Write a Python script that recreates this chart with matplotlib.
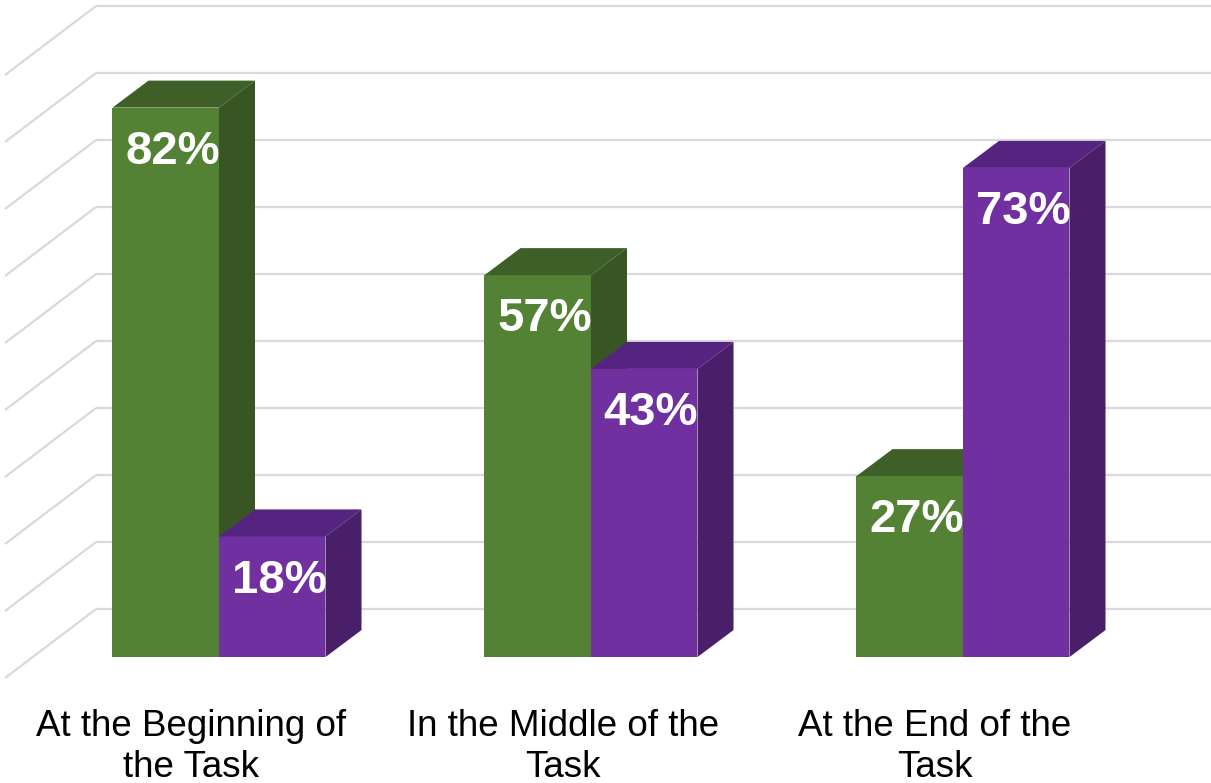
import matplotlib
matplotlib.use('Agg')
import matplotlib.pyplot as plt

# chart data
categories = ['At the Beginning of\nthe Task', 'In the Middle of the\nTask', 'At the End of the\nTask']
green_vals = [82, 57, 27]
purple_vals = [18, 43, 73]
grid_vals = [0, 10, 20, 30, 40, 50, 60, 70, 80, 90]

# face colours: front, top, side
green_faces = ('#548235', '#3f5f28', '#375623')
purple_faces = ('#7030a0', '#552480', '#481f68')

bar_w = 0.2863
# oblique depth offsets (x in category units, y in percent)
bar_dx, bar_dy = 0.0968, 4.03
back_dx, back_dy = 0.1694, 7.16
front_dx, front_dy = -0.0753, -3.13
x_left, x_right = -0.5, 2.5

plt.rcParams['font.family'] = ['Liberation Sans', 'DejaVu Sans']
fig = plt.figure(figsize=(12.11, 7.83), dpi=100)
ax = fig.add_axes([0, 0, 1, 1])
ax.set_xlim(-0.5887, 2.6667)
ax.set_ylim(-18.8, 98.06)
ax.axis('off')

# back wall and side wall gridlines
for v in grid_vals:
    ax.plot([x_left + back_dx, x_right + back_dx], [v + back_dy, v + back_dy],
            color='#d9d9d9', lw=1.6, zorder=1, solid_capstyle='butt')
    ax.plot([x_left + back_dx, x_left + front_dx], [v + back_dy, v + front_dy],
            color='#d9d9d9', lw=1.6, zorder=1, solid_capstyle='butt')


def bar3d(x, v, faces, z):
    x0, x1 = x - bar_w / 2, x + bar_w / 2
    ax.bar(x, v, width=bar_w, color=faces[0], linewidth=0, zorder=z)
    ax.fill([x0, x0 + bar_dx, x1 + bar_dx, x1], [v, v + bar_dy, v + bar_dy, v],
            color=faces[1], linewidth=0, zorder=z)
    ax.fill([x1, x1 + bar_dx, x1 + bar_dx, x1], [0, bar_dy, v + bar_dy, v],
            color=faces[2], linewidth=0, zorder=z)
    ax.text(x + 0.018, v - 6.6, f'{v}%', color='white', fontsize=34,
            fontweight='bold', ha='center', va='center', zorder=z + 0.5)


z = 2
for i, cat in enumerate(categories):
    bar3d(i - bar_w / 2, green_vals[i], green_faces, z)
    bar3d(i + bar_w / 2, purple_vals[i], purple_faces, z + 1)
    z += 2
    ax.text(i + front_dx, -7.8, cat, fontsize=26.5, color='black',
            ha='center', va='top', linespacing=1.2)

fig.savefig('out.png', dpi=100)
plt.close('all')
